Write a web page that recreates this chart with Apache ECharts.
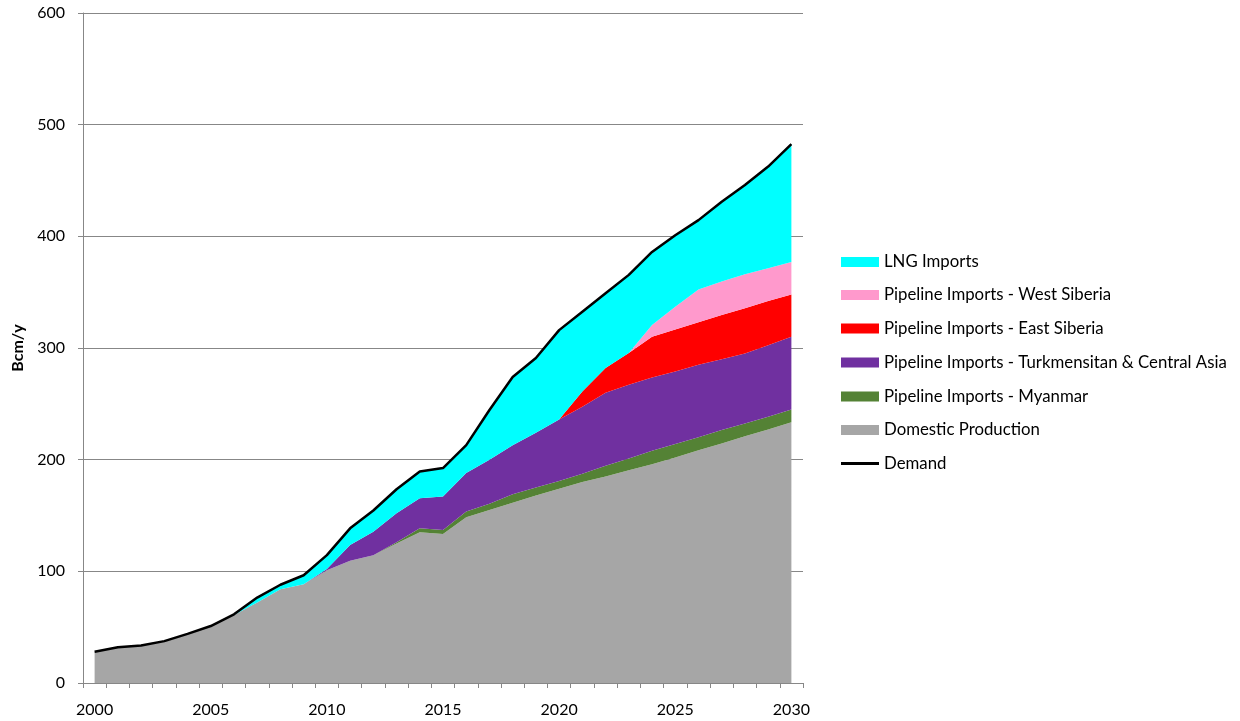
<!DOCTYPE html>
<html>
<head>
<meta charset="utf-8">
<script src="https://cdn.jsdelivr.net/npm/echarts@6/dist/echarts.min.js"></script>
<style>
html,body{margin:0;padding:0;background:#fff;}
#chart{width:1240px;height:721px;}
</style>
</head>
<body>
<div id="chart"></div>
<script>
const years = ['2000','2001','2002','2003','2004','2005','2006','2007','2008','2009','2010','2011','2012','2013','2014','2015','2016','2017','2018','2019','2020','2021','2022','2023','2024','2025','2026','2027','2028','2029','2030'];
const domestic = [28,32,33.5,37.5,44,51,61,72,84,88.5,101,109.5,114.5,125,135,133.5,148.5,155,161.5,168,174,180,185,190.5,196,202,208.5,214.5,221,227,233.5];
const myanmar  = [0,0,0,0,0,0,0,0,0,0,0,0,0,1,3.5,3.5,5,5.5,7.5,7,7,7.5,9.5,10.5,12,12,11.5,12,11.5,11.5,11.5];
const turkmen  = [0,0,0,0,0,0,0,0,0,0,1,14,21,26,27,30,34.5,39.5,44,49,55,60,65.5,66,65.5,65,65,63.5,62.5,64,65];
const eastSib  = [0,0,0,0,0,0,0,0,0,0,0,0,0,0,0,0,0,0,0,0,0,13.5,22,28.5,36.5,37.5,38,39.5,40.5,39.5,38];
const westSib  = [0,0,0,0,0,0,0,0,0,0,0,0,0,0,0,0,0,0,0,0,0,0,0,0,10.5,20.5,29.5,30,30.5,29.5,29];
const lng      = [0,0,0,0,0,0,0.5,4.5,4,8,12.5,15,19,21.5,24,25.5,25,44.5,61,67,80,71.5,67,70,65.5,64,62,71.5,80,91,105.5];
const demand   = [28,32,33.5,37.5,44,51,61.5,76.5,88,96.5,114.5,138.5,154.5,173.5,189.5,192.5,213,244.5,274,291,316,332.5,349,365.5,386,401,414.5,431,446,462.5,482.5];
const yTicks = [0,100,200,300,400,500,600];

const FONT = 'Lato';
const names = ['LNG Imports','Pipeline Imports - West Siberia','Pipeline Imports - East Siberia','Pipeline Imports - Turkmensitan & Central Asia','Pipeline Imports - Myanmar','Domestic Production','Demand'];
const legendCenters = [262,295,328.5,362.5,396.5,430,463.5];

function area(name, data, color) {
  return {
    name: name, type: 'line', stack: 'total', data: data,
    symbol: 'none', showSymbol: false,
    lineStyle: { width: 0, color: color },
    itemStyle: { color: color },
    areaStyle: { color: color, opacity: 1 },
    emphasis: { disabled: true },
    z: 2
  };
}

const legends = names.map((n, i) => {
  const isLine = n === 'Demand';
  const h = isLine ? 3 : 10;
  return {
    show: true, orient: 'vertical', left: 841, top: legendCenters[i] - 9.5,
    padding: 0, itemWidth: 38, itemHeight: h, icon: 'rect',
    data: [n], selectedMode: false,
    textStyle: { fontFamily: FONT, fontSize: 16.8, color: '#000', height: 19, lineHeight: 19 }
  };
});

const chart = echarts.init(document.getElementById('chart'), null, { renderer: 'canvas' });
chart.setOption({
  animation: false,
  backgroundColor: '#fff',
  textStyle: { fontFamily: FONT },
  grid: { left: 83, right: 437, top: 13, bottom: 38, containLabel: false, outerBoundsMode: 'none' },
  legend: legends,
  xAxis: {
    type: 'category', data: years, boundaryGap: true,
    axisLine: { show: true, lineStyle: { color: '#878787', width: 1 } },
    axisTick: { show: true, length: 5, interval: 0, lineStyle: { color: '#878787' } },
    axisLabel: { interval: 4, margin: 19, fontFamily: FONT, fontSize: 16, color: '#000' },
    splitLine: { show: false }
  },
  yAxis: {
    type: 'value', min: yTicks[0], max: yTicks[yTicks.length - 1], interval: 100,
    name: 'Bcm/y', nameLocation: 'middle', nameRotate: 90, nameGap: 56,
    nameTextStyle: { fontFamily: FONT, fontSize: 16, fontWeight: 'bold', color: '#000' },
    axisLine: { show: true, lineStyle: { color: '#878787', width: 1 } },
    axisTick: { show: true, length: 5, lineStyle: { color: '#878787' } },
    axisLabel: { margin: 18, fontFamily: FONT, fontSize: 16, color: '#000' },
    splitLine: { show: true, lineStyle: { color: '#878787', width: 1 } }
  },
  series: [
    area('Domestic Production', domestic, '#A6A6A6'),
    area('Pipeline Imports - Myanmar', myanmar, '#548235'),
    area('Pipeline Imports - Turkmensitan & Central Asia', turkmen, '#7030A0'),
    area('Pipeline Imports - East Siberia', eastSib, '#FF0000'),
    area('Pipeline Imports - West Siberia', westSib, '#FF99CC'),
    area('LNG Imports', lng, '#00FFFF'),
    {
      name: 'Demand', type: 'line', data: demand, symbol: 'none', showSymbol: false,
      lineStyle: { color: '#000', width: 2.5 }, itemStyle: { color: '#000' },
      emphasis: { disabled: true }, z: 5
    }
  ]
});
</script>
</body>
</html>
